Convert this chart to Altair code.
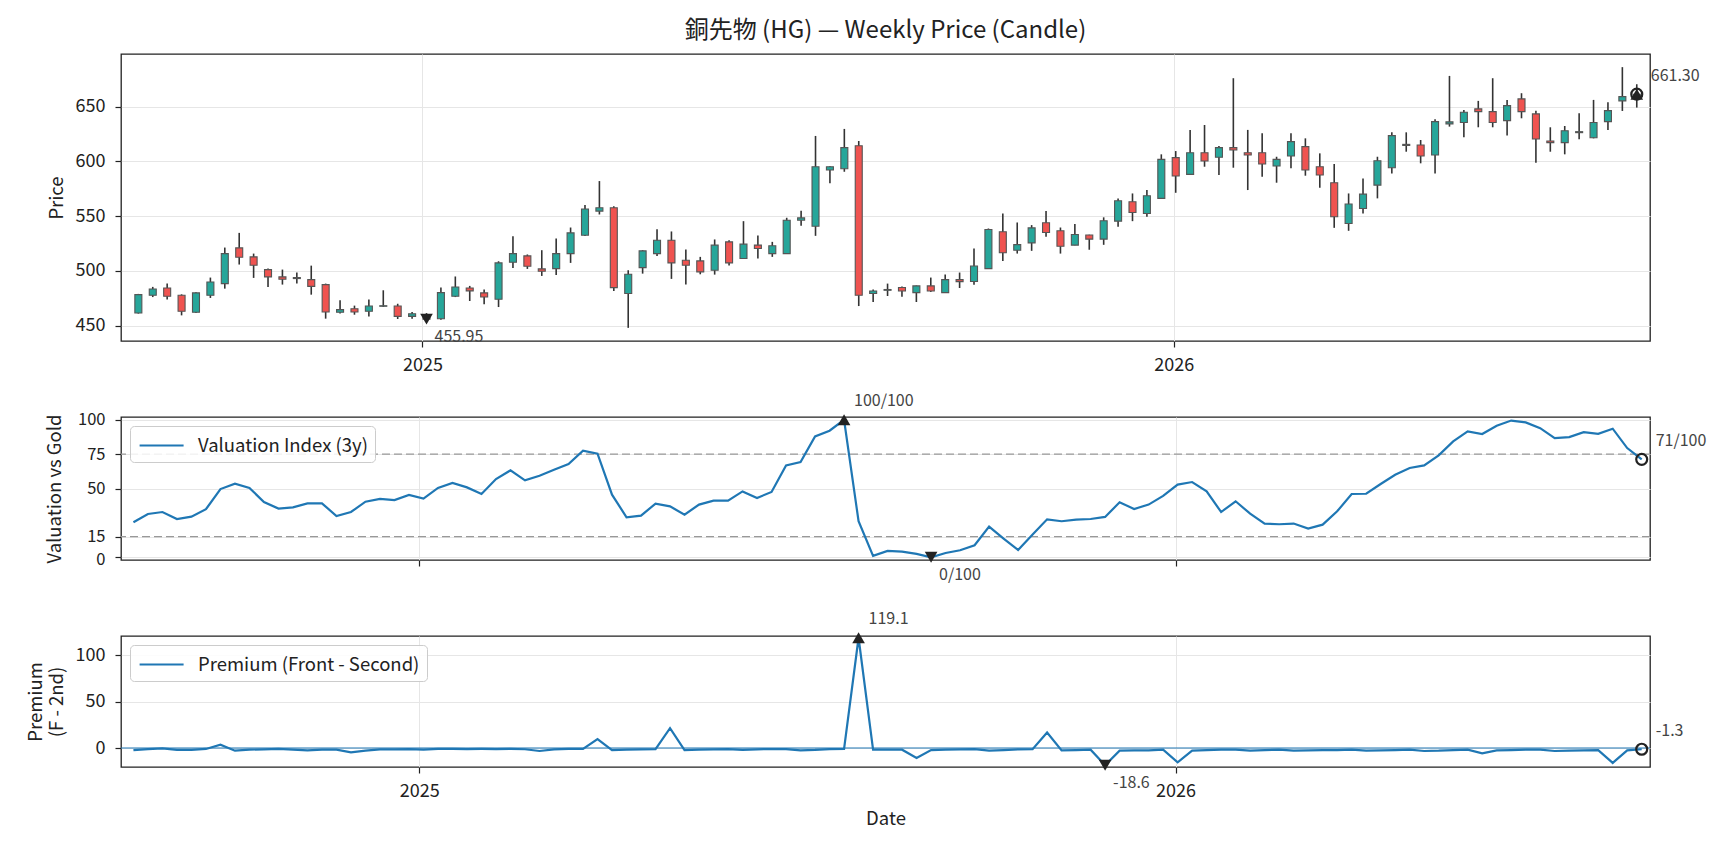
import altair as alt
import pandas as pd

# weekly bars, Friday dates
dates = pd.date_range("2024-08-16", periods=105, freq="7D").strftime("%Y-%m-%d").tolist()

open_ = [461.6, 477.7, 484.4, 477.7, 462.2, 477.7, 488.4, 521.0, 512.8, 501.2,
         494.5, 493.0, 492.0, 487.5, 462.2, 465.5, 463.1, 467.7, 467.9, 458.5,
         460.2, 456.3, 476.8, 484.4, 479.9, 474.1, 507.9, 513.7, 501.8, 502.1,
         515.8, 532.6, 554.6, 557.6, 479.3, 503.0, 515.8, 528.0, 509.7, 509.1,
         500.6, 526.5, 511.3, 523.5, 515.8, 515.8, 546.3, 540.8, 592.1, 593.3,
         614.3, 479.3, 482.3, 484.8, 480.2, 486.3, 480.2, 492.0, 490.3, 502.1,
         535.7, 518.9, 525.6, 543.9, 536.6, 523.5, 532.7, 529.0, 545.4, 563.1,
         552.4, 566.2, 603.4, 588.1, 607.9, 603.7, 612.5, 607.9, 607.9, 595.7,
         604.9, 613.4, 595.1, 580.5, 543.3, 557.0, 578.3, 594.2, 614.5, 614.9,
         605.8, 634.2, 635.4, 647.9, 645.4, 637.2, 657.0, 643.3, 618.6, 617.1,
         626.2, 621.6, 636.3, 655.2, 658.5]
high = [479.0, 485.4, 488.4, 478.6, 480.5, 493.9, 521.3, 534.7, 515.8, 502.1,
        501.2, 498.5, 504.8, 488.4, 473.2, 468.3, 473.8, 482.3, 470.0, 462.5,
        461.5, 484.8, 494.9, 486.3, 482.9, 508.8, 531.7, 515.0, 518.9, 529.6,
        539.6, 560.1, 582.0, 559.1, 500.6, 518.9, 538.1, 536.0, 519.5, 512.8,
        528.7, 528.0, 545.4, 532.2, 526.5, 548.5, 554.9, 623.2, 595.5, 629.6,
        618.6, 482.9, 488.4, 485.7, 486.6, 493.9, 496.6, 498.5, 520.4, 538.7,
        552.4, 544.2, 541.8, 554.6, 539.6, 542.7, 533.0, 548.9, 566.2, 570.7,
        573.8, 606.4, 609.4, 628.7, 633.2, 614.0, 675.9, 628.7, 625.6, 604.2,
        625.6, 621.0, 607.3, 597.6, 570.7, 584.4, 604.2, 626.5, 626.5, 619.5,
        638.4, 678.0, 646.9, 655.2, 675.9, 656.1, 662.2, 646.3, 631.1, 632.3,
        643.9, 656.1, 654.0, 686.0, 670.4]
low = [461.0, 476.1, 473.8, 459.4, 461.6, 475.3, 483.8, 505.8, 493.6, 485.4,
       487.5, 488.4, 478.3, 456.4, 461.0, 460.0, 458.3, 467.1, 456.1, 456.4,
       455.6, 455.5, 476.1, 472.5, 469.6, 467.0, 502.7, 501.8, 495.4, 496.3,
       507.3, 531.9, 551.5, 481.7, 448.0, 497.5, 513.7, 492.7, 487.5, 496.9,
       496.6, 504.9, 511.0, 511.3, 512.8, 515.6, 541.2, 532.0, 579.9, 590.5,
       467.9, 471.6, 477.1, 476.5, 471.6, 480.8, 480.0, 484.4, 487.3, 502.0,
       509.1, 515.8, 518.3, 531.1, 515.8, 523.3, 519.3, 523.8, 540.2, 545.4,
       549.4, 566.0, 571.3, 588.0, 595.1, 587.5, 594.2, 573.8, 586.0, 580.5,
       593.6, 586.9, 575.9, 539.3, 536.6, 552.4, 566.2, 589.0, 608.8, 598.2,
       589.0, 631.7, 621.9, 631.1, 631.1, 623.5, 639.3, 598.8, 608.8, 606.4,
       620.1, 621.0, 628.7, 646.0, 649.1]
close = [478.3, 483.5, 476.8, 463.1, 479.9, 489.9, 515.8, 512.5, 505.2, 494.5,
         492.4, 493.9, 485.9, 462.5, 464.6, 462.5, 467.9, 468.2, 458.5, 460.9,
         455.95, 480.2, 485.3, 481.8, 476.2, 507.3, 515.8, 504.3, 499.7, 515.8,
         534.7, 556.5, 557.6, 484.7, 497.0, 518.3, 528.0, 507.3, 505.2, 499.1,
         523.5, 507.3, 524.4, 520.4, 522.9, 546.3, 548.4, 595.1, 595.1, 612.5,
         477.7, 481.7, 483.0, 481.7, 486.3, 481.7, 492.0, 490.2, 504.4, 537.8,
         516.5, 524.0, 539.3, 535.0, 522.5, 533.2, 529.0, 545.8, 564.0, 553.3,
         568.6, 601.8, 586.6, 607.9, 600.3, 612.5, 610.4, 605.8, 597.6, 601.8,
         618.0, 592.1, 587.5, 549.4, 561.0, 570.1, 600.6, 623.5, 615.5, 604.9,
         636.3, 636.0, 644.8, 645.4, 635.4, 650.9, 645.4, 620.4, 617.1, 628.0,
         627.1, 635.4, 646.3, 659.1, 661.3]

valuation = [25.4, 31.5, 32.9, 27.8, 29.5, 34.9, 49.6, 53.5, 50.4, 40.2,
             35.4, 36.3, 39.2, 39.2, 30.0, 32.9, 40.4, 42.4, 41.6, 45.3,
             42.6, 50.4, 54.0, 50.8, 46.0, 56.9, 63.2, 55.9, 59.3, 63.7,
             67.8, 77.5, 75.3, 45.5, 29.1, 30.3, 39.0, 37.0, 31.0, 38.3,
             41.2, 41.2, 47.9, 43.1, 47.5, 66.8, 69.2, 87.9, 92.0, 100.0,
             26.2, 1.0, 4.6, 4.1, 2.4, 0.0, 3.1, 5.1, 8.7, 22.3,
             13.6, 5.3, 16.5, 27.6, 26.2, 27.4, 27.8, 29.3, 40.0, 35.1,
             38.3, 44.6, 52.8, 54.7, 47.9, 32.9, 40.7, 31.7, 24.5, 24.0,
             24.5, 20.8, 23.7, 33.4, 46.0, 46.2, 53.3, 60.0, 64.9, 66.8,
             74.1, 84.3, 91.5, 89.6, 95.6, 99.4, 98.1, 93.9, 86.7, 87.4,
             91.0, 89.8, 93.5, 79.4, 71.2]

premium = [-2.2, -1.1, -0.3, -2.0, -2.0, -1.0, 3.6, -2.9, -1.8, -1.4,
           -1.0, -1.8, -2.5, -1.8, -1.8, -4.7, -2.9, -1.4, -1.4, -1.2,
           -1.8, -1.0, -1.0, -1.1, -1.0, -1.1, -1.0, -1.3, -3.2, -1.4,
           -1.0, -0.9, 9.7, -2.2, -1.8, -1.4, -1.1, 21.5, -2.2, -1.8,
           -1.4, -1.1, -2.0, -1.4, -1.1, -1.1, -2.5, -2.0, -1.1, -0.9,
           119.1, -1.8, -1.8, -1.8, -10.8, -2.2, -1.8, -1.4, -1.1, -2.9,
           -2.2, -1.4, -1.2, 16.8, -2.5, -2.2, -1.8, -18.6, -2.9, -2.5,
           -2.5, -1.8, -15.4, -2.9, -2.2, -1.8, -1.8, -2.9, -2.2, -1.8,
           -2.9, -2.5, -2.2, -2.2, -1.8, -2.9, -2.5, -2.2, -1.8, -3.2,
           -2.9, -2.2, -1.8, -5.7, -2.5, -2.2, -1.8, -1.8, -3.2, -2.9,
           -2.5, -2.2, -16.1, -2.5, -1.3]

val_levels = [75, 15]
prem_levels = [0]

UP, DOWN, BLUE, INK = "#26a69a", "#ef5350", "#1f77b4", "#222222"
FONT = "Noto Sans CJK JP"
W = 1529
H1, H2, H3 = 287, 143, 131


def utc(y, m, d):
    return alt.DateTime(year=y, month=m, date=d, utc=True)


x_scale = alt.Scale(type="utc", domain=[utc(2024, 8, 10), utc(2026, 8, 18)])
year_ticks = [utc(2025, 1, 1), utc(2026, 1, 1)]


def x_axis(labels=True, title=None):
    return alt.Axis(values=year_ticks, format="%Y", labels=labels, grid=True,
                    labelPadding=9, title=title, titlePadding=9)


def y_axis(values, title, tx, h, **kw):
    return alt.Axis(values=values, title=title, titleX=tx, titleY=h / 2,
                    titleBaseline="middle", titleAngle=270, titleLineHeight=21, **kw)


def annotate(values, labels, y_sc, x_ax, y_ax, skip_max_text=False):
    i_max = values.index(max(values))
    i_min = values.index(min(values))
    i_last = len(values) - 1
    df = pd.DataFrame({
        "date": [dates[i_max], dates[i_min], dates[i_last]],
        "v": [values[i_max], values[i_min], values[i_last]],
        "kind": ["max", "min", "last"],
        "label": [labels[i_max], labels[i_min], labels[i_last]],
    })
    base = alt.Chart(df).encode(
        x=alt.X("date:T", scale=x_scale, axis=x_ax),
        y=alt.Y("v:Q", scale=y_sc, axis=y_ax),
    )
    hi = base.transform_filter("datum.kind == 'max'")
    lo = base.transform_filter("datum.kind == 'min'")
    last = base.transform_filter("datum.kind == 'last'")
    txt = dict(align="left", baseline="middle", fontSize=16, color="#444444", font=FONT)
    layers = [
        hi.mark_point(shape="triangle-up", filled=True, color=INK, size=160, opacity=1),
        lo.mark_point(shape="triangle-down", filled=True, color=INK, size=160, opacity=1),
        last.mark_point(shape="circle", filled=False, color=INK, size=120, strokeWidth=2.2, opacity=1),
        lo.mark_text(dx=8, dy=18, **txt).encode(text="label:N"),
        last.mark_text(dx=14, dy=-18, **txt).encode(text="label:N"),
    ]
    if not skip_max_text:
        layers.append(hi.mark_text(dx=10, dy=-19, **txt).encode(text="label:N"))
    return layers


# ---- panel 1: candles ----
price = pd.DataFrame({"date": dates, "open": open_, "high": high, "low": low, "close": close})
price["lo"] = price[["open", "close"]].min(axis=1)
price["hi"] = price[["open", "close"]].max(axis=1)

y1 = alt.Scale(domain=[436, 698], nice=False, zero=False)
xa1 = x_axis()
ya1 = y_axis([450, 500, 550, 600, 650], "Price", -65, H1)

base1 = alt.Chart(price).encode(x=alt.X("date:T", scale=x_scale, axis=xa1))
wick = base1.mark_rule(color="#333333", strokeWidth=1.6).encode(
    y=alt.Y("low:Q", scale=y1, axis=ya1), y2="high:Q")
body = base1.mark_bar(size=7, stroke="#555555", strokeWidth=1.1).encode(
    y=alt.Y("lo:Q", scale=y1, axis=ya1), y2="hi:Q",
    color=alt.condition("datum.close >= datum.open", alt.value(UP), alt.value(DOWN)))

p1 = alt.layer(
    wick, body,
    *annotate(close, [f"{c:.2f}" for c in close], y1, xa1, ya1, skip_max_text=True),
).properties(width=W, height=H1,
             title=alt.Title("銅先物 (HG) — Weekly Price (Candle)", offset=11, anchor="middle"))


def legend():
    # horizontal stroke ~44px long, drawn to the right of its 22px slot
    return alt.Legend(orient="top-left", offset=9, title=None, symbolType="M-0.9,0H3.1",
                      symbolSize=484, symbolStrokeWidth=2.2, labelFontSize=18.5,
                      labelFont=FONT, labelColor=INK, labelOffset=36, labelLimit=600,
                      padding=7, fillColor="rgba(255,255,255,0.85)", strokeColor="#cccccc",
                      cornerRadius=4)


# ---- panel 2: valuation ----
val = pd.DataFrame({"date": dates, "v": valuation, "series": "Valuation Index (3y)"})
y2 = alt.Scale(domain=[-2, 102], nice=False, zero=False)
xa2 = x_axis(labels=False)
ya2 = y_axis([0, 15, 50, 75, 100], "Valuation vs Gold", -67, H2, labelFontSize=16.5,
             labelOffset={"condition": {"test": "datum.value === 0", "value": 2.5}, "value": 0})

levels2 = alt.Chart(pd.DataFrame({"v": val_levels})).mark_rule(
    color="#999999", strokeWidth=1.3, strokeDash=[8, 4]).encode(y=alt.Y("v:Q", scale=y2, axis=ya2))
line2 = alt.Chart(val).mark_line(strokeWidth=2.2).encode(
    x=alt.X("date:T", scale=x_scale, axis=xa2),
    y=alt.Y("v:Q", scale=y2, axis=ya2),
    color=alt.Color("series:N", scale=alt.Scale(domain=["Valuation Index (3y)"], range=[BLUE]),
                    legend=legend()),
)
p2 = alt.layer(
    levels2, line2,
    *annotate(valuation, [f"{round(v)}/100" for v in valuation], y2, xa2, ya2),
).properties(width=W, height=H2)

# ---- panel 3: premium ----
prem = pd.DataFrame({"date": dates, "v": premium, "series": "Premium (Front - Second)"})
y3 = alt.Scale(domain=[-20.5, 121], nice=False, zero=False)
xa3 = x_axis(title="Date")
ya3 = y_axis([0, 50, 100], ["Premium", "(F - 2nd)"], -86, H3)

zero3 = alt.Chart(pd.DataFrame({"v": prem_levels})).mark_rule(
    color=BLUE, strokeWidth=1.2).encode(y=alt.Y("v:Q", scale=y3, axis=ya3))
line3 = alt.Chart(prem).mark_line(strokeWidth=2.2).encode(
    x=alt.X("date:T", scale=x_scale, axis=xa3),
    y=alt.Y("v:Q", scale=y3, axis=ya3),
    color=alt.Color("series:N", scale=alt.Scale(domain=["Premium (Front - Second)"], range=[BLUE]),
                    legend=legend()),
)
p3 = alt.layer(
    zero3, line3,
    *annotate(premium, [f"{v:.1f}" for v in premium], y3, xa3, ya3),
).properties(width=W, height=H3)

chart = (
    alt.vconcat(p1, p2, p3, spacing=76, bounds="flush")
    .resolve_scale(color="independent")
    .properties(padding={"left": 17, "top": 10, "right": 10, "bottom": 5})
    .configure(font=FONT)
    .configure_view(stroke=INK, strokeWidth=1.3)
    .configure_axis(labelFont=FONT, labelFontSize=18, labelColor=INK, titleFont=FONT,
                    titleFontSize=18.5, titleColor=INK, titleFontWeight="normal",
                    tickColor=INK, tickSize=6, tickWidth=1.2, domain=False,
                    gridColor="#e6e6e6", gridWidth=1)
    .configure_axisY(labelPadding=10)
    .configure_title(font=FONT, fontSize=24, fontWeight="normal", color=INK)
)

chart.save("out.html", embed_options={"renderer": "svg", "actions": False})
